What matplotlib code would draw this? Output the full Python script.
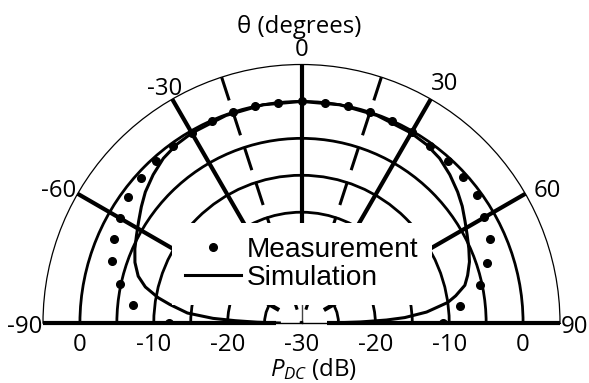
import numpy as np
import matplotlib
matplotlib.use("Agg")
import matplotlib.pyplot as plt
from matplotlib.patches import Rectangle

plt.rcParams['font.family'] = ['Open Sans', 'DejaVu Sans']
plt.rcParams['mathtext.fontset'] = 'custom'
plt.rcParams['mathtext.rm'] = 'Open Sans'
plt.rcParams['mathtext.it'] = 'Open Sans:italic'

# ---- data ----
theta_meas = [-90, -84, -78, -72, -66, -60, -54, -48, -42, -36, -30, -24, -18, -12, -6,
              0, 6, 12, 18, 24, 30, 36, 42, 48, 54, 60, 66, 72, 78, 84, 90]
meas_db = [-12.0, -7.1, -4.9, -3.0, -2.2, -1.6, -1.0, -0.7, -0.5, -0.4, -0.3, -0.1, 0.0, 0.0, 0.0,
           0.0, 0.0, 0.0, 0.0, 0.0, -0.2, -0.3, -0.4, -0.5, -0.6, -1.4, -2.0, -3.6, -5.3, -8.4, -10.9]

theta_sim = [-90, -89, -88, -87, -85, -82, -80, -77, -74, -70, -66, -62, -58, -54, -50, -45,
             -40, -35, -30, -20, -10, 0, 10, 20, 30, 35, 40, 45, 50, 54, 58, 62, 66, 70, 74,
             77, 80, 82, 85, 87, 88, 89, 90]
sim_db = [-27.0, -24.0, -21.0, -18.0, -14.5, -12.0, -10.3, -8.3, -7.0, -6.0, -5.3, -4.7, -4.0,
          -3.2, -2.4, -1.6, -0.9, -0.5, -0.3, -0.1, 0.0, 0.0, 0.0, -0.1, -0.3, -0.5, -0.9,
          -1.6, -2.4, -3.1, -3.9, -4.6, -5.2, -5.8, -6.6, -7.3, -8.8, -10.0, -13.0, -16.0,
          -18.5, -22.0, -26.0]

theta_ticks = [-90, -60, -30, 0, 30, 60, 90]
spoke_angles = [-90, -60, -30, 0, 30, 60, 90]
r_circles = [-25, -20, -15, -10, -5, 0]
r_labels = [0, -10, -20]
dash_angles = [-18, 18]
r_min, r_max = -30, 5
r_spoke_inner = -26.5

# ---- figure ----
W, H = 589, 383
fig = plt.figure(figsize=(W / 100, H / 100), dpi=100)
D = 517.0
base_y = 60.0  # baseline height above figure bottom, pixels
ax = fig.add_axes([43 / W, (base_y - D * 0.25) / H, D / W, D / H], projection='polar')
ax.set_theta_zero_location('N')
ax.set_theta_direction(-1)
ax.set_thetamin(-90)
ax.set_thetamax(90)
ax.set_rlim(r_min, r_max)

ax.set_thetagrids([0], labels=[''])
ax.set_rgrids(r_circles, labels=[''] * len(r_circles))
ax.xaxis.grid(True, color='#444444', linewidth=1.0, linestyle='-')
ax.yaxis.grid(True, color='black', linewidth=2.0, linestyle='-')
ax.tick_params(length=0)
ax.spines['polar'].set_linewidth(0.9)
ax.spines['start'].set_visible(False)
ax.spines['end'].set_visible(False)
ax.spines['inner'].set_visible(False)

# thin baseline near the centre
for a in (-90, 90):
    t = np.deg2rad(a)
    ax.plot([t, t], [r_min, r_spoke_inner], color='#444444', linewidth=1.0,
            zorder=2, clip_on=False)

# thick spokes
for a in spoke_angles:
    t = np.deg2rad(a)
    ax.plot([t, t], [r_spoke_inner, r_max], color='black', linewidth=3.0,
            solid_capstyle='butt', zorder=2, clip_on=False)

for a in dash_angles:
    t = np.deg2rad(a)
    ax.plot([t, t], [r_max, r_min], color='black', linewidth=2.2,
            linestyle=(0, (8, 4)), zorder=2)

ax.plot(np.deg2rad(theta_meas), meas_db, linestyle='none', marker='o',
        markersize=5.5, color='black', label='Measurement', zorder=3)
ax.plot(np.deg2rad(theta_sim), sim_db, color='black', linewidth=2.2,
        label='Simulation', zorder=3)

# white legend area that hides the grid underneath
rect = Rectangle((172 / W, 1 - 305 / H), 260 / W, 82 / H,
                 transform=fig.transFigure, facecolor='white',
                 edgecolor='none', zorder=4)
fig.add_artist(rect)

# theta tick labels
offsets = {-90: (-18, -4), -60: (-19, 3), -30: (-8, 10), 0: (0, 15),
           30: (14, 15), 60: (22, 3), 90: (15, -4)}
for a in theta_ticks:
    ax.annotate(str(a), xy=(np.deg2rad(a), r_max), xycoords='data',
                xytext=offsets[a], textcoords='offset pixels',
                ha='center', va='center', fontsize=17.3, annotation_clip=False)

# radial labels along the baseline
for r in r_labels:
    for a in (-90, 90):
        ax.annotate(str(r), xy=(np.deg2rad(a), r), xycoords='data',
                    xytext=(0, -22), textcoords='offset pixels',
                    ha='center', va='center', fontsize=17.3, annotation_clip=False)
ax.annotate(str(r_min), xy=(0, r_min), xycoords='data', xytext=(0, -22),
            textcoords='offset pixels', ha='center', va='center', fontsize=17.3,
            annotation_clip=False)

fig.text(299 / W, 1 - 27 / H, 'θ (degrees)', ha='center', va='center', fontsize=17.3)
fig.text(313 / W, 1 - 369 / H, r'$P_{DC}$ (dB)', ha='center', va='center', fontsize=17.3)

leg = fig.legend(handles=ax.get_lines()[-2:], loc='center',
                 bbox_to_anchor=(302 / W, 1 - 264 / H),
                 bbox_transform=fig.transFigure, frameon=False,
                 prop={'family': ['Liberation Sans'], 'size': 20.2},
                 handlelength=2.0, handletextpad=0.2, labelspacing=0.07,
                 borderpad=0.5, markerscale=1.0)
leg.set_zorder(5)

fig.savefig('out.png', dpi=100)
